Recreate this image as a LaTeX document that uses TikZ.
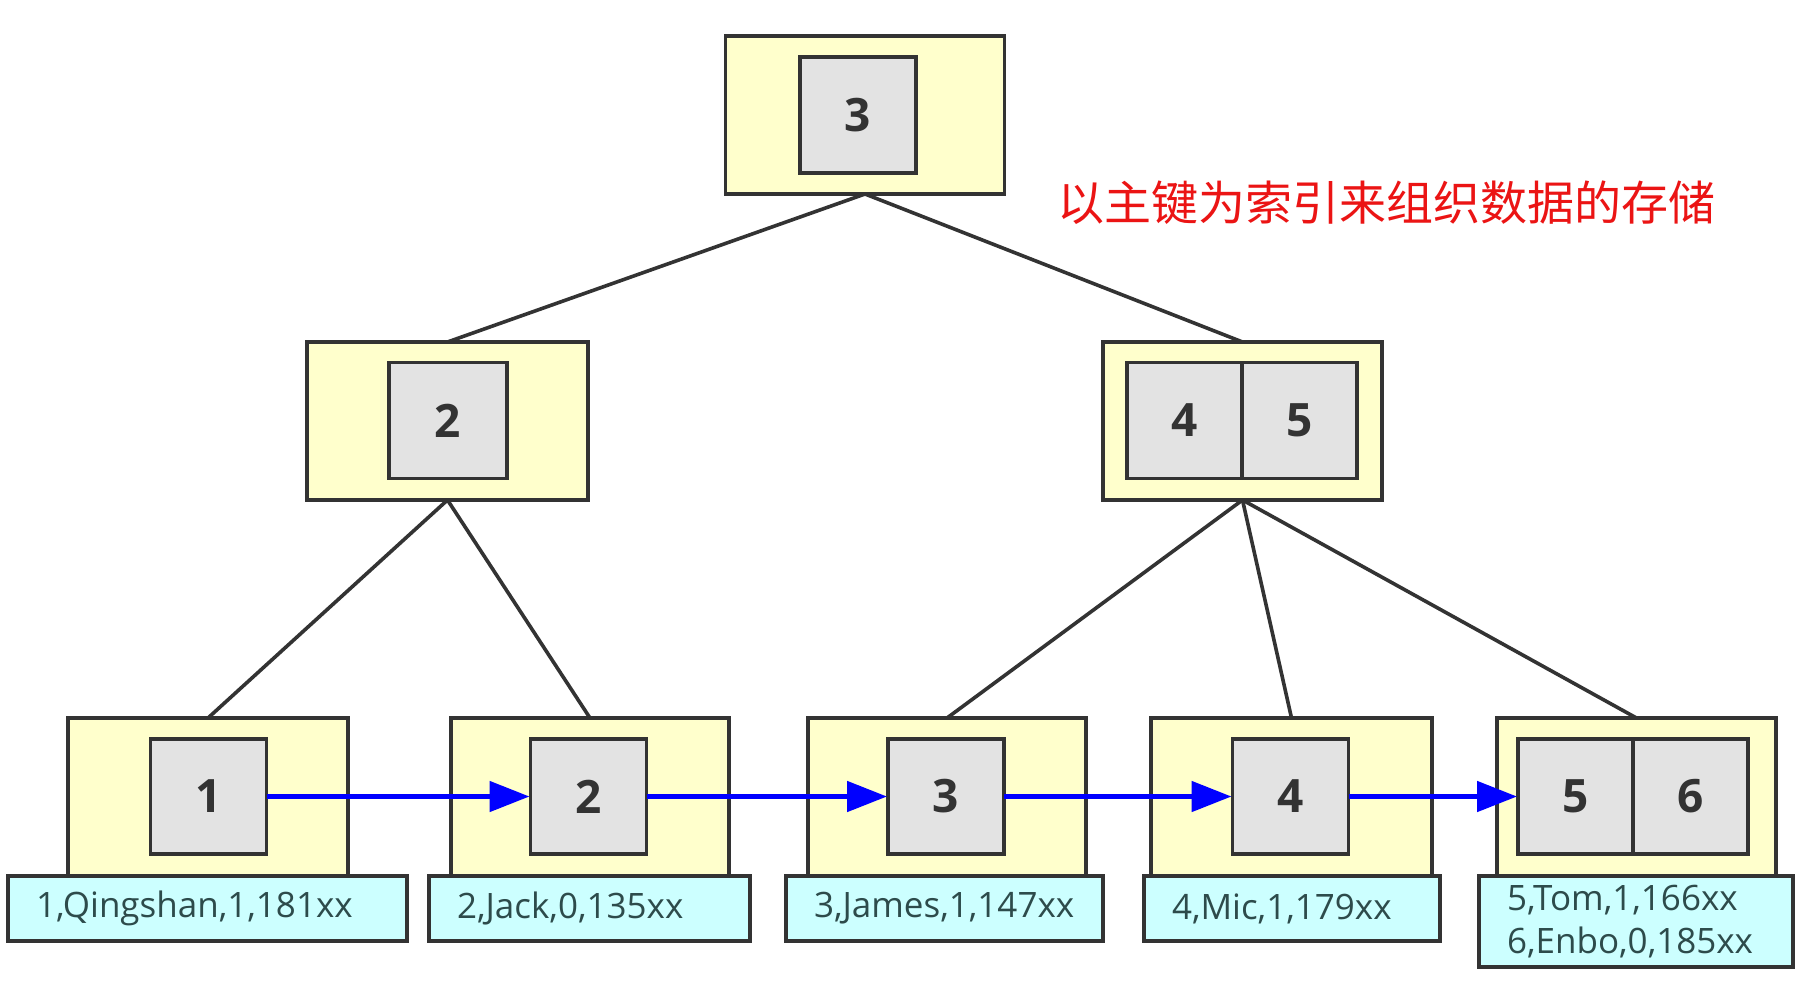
\documentclass[tikz,border=0pt]{standalone}
\usepackage{fontspec}
\setmainfont{Open Sans}
\newfontfamily\cjk{Noto Sans CJK SC}
\usetikzlibrary{arrows.meta}
\definecolor{boxline}{RGB}{51,51,51}
\definecolor{outerfill}{RGB}{255,255,204}
\definecolor{innerfill}{RGB}{227,227,227}
\definecolor{datafill}{RGB}{204,255,255}
\definecolor{datatext}{RGB}{45,75,75}
\definecolor{keyred}{RGB}{235,20,20}
\definecolor{linkblue}{RGB}{0,0,255}
\begin{document}
\begin{tikzpicture}[x=1pt,y=-1pt,
  outerbox/.style={draw=boxline, fill=outerfill, line width=3.5pt, minimum width=279pt, minimum height=158pt, inner sep=0pt, outer sep=0pt},
  keybox/.style={draw=boxline, fill=innerfill, line width=3.5pt, minimum width=116pt, minimum height=116pt, inner sep=0pt, outer sep=0pt, font=\fontsize{46}{46}\selectfont\bfseries, text=boxline},
  halfkey/.style={keybox, minimum width=115pt},
  databox/.style={draw=boxline, fill=datafill, line width=3.5pt, minimum height=65pt, inner xsep=28pt, inner ysep=0pt, outer sep=0pt, align=left, font=\fontsize{35}{43}\selectfont, text=datatext},
  treeedge/.style={draw=boxline, line width=3.6pt},
  link/.style={draw=linkblue, line width=5pt, -{Triangle[length=40pt,width=30pt]}, shorten >=1pt}
]
\fill[white] (0,0) rectangle (1812,988);
\useasboundingbox (0,0) rectangle (1812,988);

% outer boxes
\node[outerbox] (root) at (865,115) {};
\node[outerbox, minimum width=281pt] (ml) at (447.5,421) {};
\node[outerbox] (mr) at (1242.5,421) {};
\node[outerbox, minimum width=280pt] (l1) at (208,797) {};
\node[outerbox, minimum width=278pt] (l2) at (590,797) {};
\node[outerbox, minimum width=278pt] (l3) at (947,797) {};
\node[outerbox, minimum width=281pt] (l4) at (1291.5,797) {};
\node[outerbox] (l5) at (1636.5,797) {};

% tree edges
\draw[treeedge] (root.south) -- (ml.north);
\draw[treeedge] (root.south) -- (mr.north);
\draw[treeedge] (ml.south) -- (l1.north);
\draw[treeedge] (ml.south) -- (l2.north);
\draw[treeedge] (mr.south) -- (l3.north);
\draw[treeedge] (mr.south) -- (l4.north);
\draw[treeedge] (mr.south) -- (l5.north);

% data boxes
\node[databox, text width=343pt] (d1) at (207.5,908.5) {1,Qingshan,1,181xx};
\node[databox, text width=265pt] (d2) at (589.5,908.5) {2,Jack,0,135xx};
\node[databox, text width=261pt] (d3) at (944.5,908.5) {3,James,1,147xx};
\node[databox, text width=240pt] (d4) at (1292,908.5) {4,Mic,1,179xx};
\node[databox, text width=258pt, minimum height=91pt] (d5) at (1636,921.5) {5,Tom,1,166xx\\6,Enbo,0,185xx};

% key boxes
\node[keybox] (k3) at (858,115) {3};
\node[keybox, minimum width=118pt] (k2) at (448,420.5) {2};
\node[halfkey] (k4) at (1184.5,420.5) {4};
\node[halfkey] (k5) at (1299.5,420.5) {5};
\node[keybox, minimum height=115pt] (kl1) at (208.5,796.5) {1};
\node[keybox, minimum height=115pt] (kl2) at (588.5,796.5) {2};
\node[keybox, minimum height=115pt] (kl3) at (946,796.5) {3};
\node[keybox, minimum height=115pt] (kl4) at (1290.5,796.5) {4};
\node[halfkey, minimum height=115pt] (kl5) at (1575.5,796.5) {5};
\node[halfkey, minimum height=115pt] (kl6) at (1690.5,796.5) {6};

% leaf links
\draw[link] (kl1.east) -- (kl2.west);
\draw[link] (kl2.east) -- (kl3.west);
\draw[link] (kl3.east) -- (kl4.west);
\draw[link] (kl4.east) -- (kl5.west);

% caption
\node[text=keyred, font=\cjk\fontsize{47}{47}\selectfont] (caption) at (1386,203) {以主键为索引来组织数据的存储};
\end{tikzpicture}
\end{document}
